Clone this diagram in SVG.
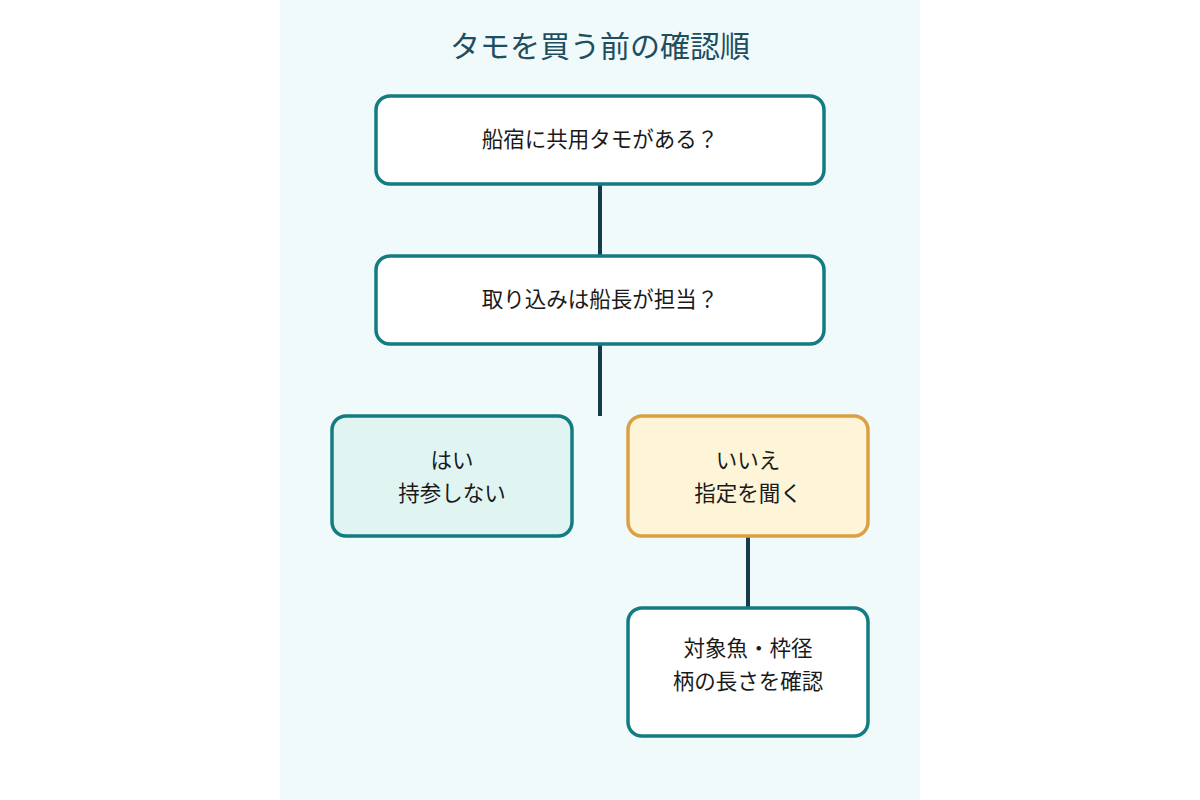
<svg xmlns="http://www.w3.org/2000/svg" width="1200" height="800" viewBox="0 0 1200 800">
<style>
.n{stroke-width:3.5}
.t{font-family:"Noto Sans CJK JP","Noto Sans",sans-serif;font-size:21.5px;fill:#1a1a1a;text-anchor:middle}
.c{stroke:#163c4a;stroke-width:4;fill:none}
</style>
<rect width="1200" height="800" fill="#ffffff"/>
<rect x="280" y="0" width="640" height="800" fill="#f0fafb"/>
<text x="600" y="57" style="font-family:'Noto Sans CJK JP',sans-serif;font-size:30px;fill:#1f4e5f;text-anchor:middle">タモを買う前の確認順</text>
<g id="connectors">
<line class="c" x1="600" y1="184" x2="600" y2="256"/>
<line class="c" x1="600" y1="344" x2="600" y2="416"/>
<line class="c" x1="748" y1="536" x2="748" y2="607"/>
</g>
<g id="q1"><rect class="n" x="376" y="96" width="448" height="88" rx="14" fill="#fff" stroke="#137c80"/><text class="t" x="600" y="147">船宿に共用タモがある？</text></g>
<g id="q2"><rect class="n" x="376" y="256" width="448" height="88" rx="14" fill="#fff" stroke="#137c80"/><text class="t" x="600" y="307">取り込みは船長が担当？</text></g>
<g id="yes"><rect class="n" x="332" y="416" width="240" height="120" rx="14" fill="#e0f5f2" stroke="#137c80"/><text class="t" x="452" y="468">はい</text><text class="t" x="452" y="501">持参しない</text></g>
<g id="no"><rect class="n" x="628" y="416" width="240" height="120" rx="14" fill="#fef5d8" stroke="#dca043"/><text class="t" x="748" y="468">いいえ</text><text class="t" x="748" y="501">指定を聞く</text></g>
<g id="check"><rect class="n" x="628" y="608" width="240" height="128" rx="14" fill="#fff" stroke="#137c80"/><text class="t" x="748" y="656">対象魚・枠径</text><text class="t" x="748" y="689">柄の長さを確認</text></g>
</svg>
